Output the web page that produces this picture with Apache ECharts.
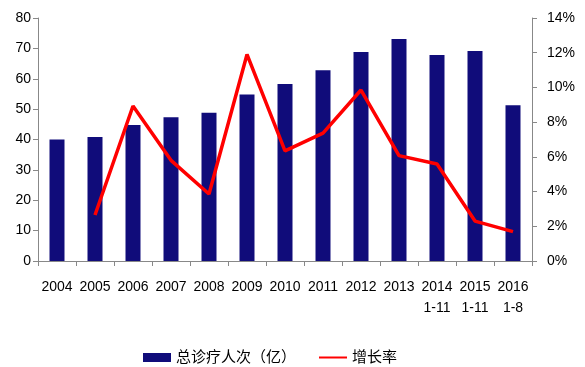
<!DOCTYPE html>
<html><head><meta charset="utf-8">
<script src="https://cdn.jsdelivr.net/npm/echarts@6/dist/echarts.min.js"></script>
<style>html,body{margin:0;padding:0;background:#fff}#c{width:585px;height:367px}</style>
</head><body><div id="c"></div>
<script>
const categories = ['2004','2005','2006','2007','2008','2009','2010','2011','2012','2013','2014\n1-11','2015\n1-11','2016\n1-8'];
const visits = [40.0, 40.8, 44.8, 47.3, 48.8, 54.8, 58.3, 62.8, 68.8, 73.1, 67.8, 69.1, 51.3];
const growth = [null, 2.65, 8.93, 5.8, 3.86, 11.9, 6.34, 7.37, 9.85, 6.07, 5.59, 2.3, 1.69];
const barName = '总诊疗人次（亿）';
const lineName = '增长率';
const font = '"Liberation Sans", "Noto Sans CJK SC", sans-serif';
const chart = echarts.init(document.getElementById('c'));
chart.setOption({
  animation: false,
  textStyle: {fontFamily: font},
  grid: {left: 38, right: 53, top: 18, bottom: 106},
  legend: {
    top: 345, left: 138, itemGap: 22, itemWidth: 28, itemHeight: 9,
    textStyle: {fontSize: 15, color: '#000', fontFamily: font},
    data: [{name: barName, icon: 'rect'}, {name: lineName, itemStyle: {opacity: 0}}]
  },
  xAxis: {
    type: 'category', data: categories,
    axisLine: {lineStyle: {color: '#888'}},
    axisTick: {show: true, length: 5, lineStyle: {color: '#888'}},
    axisLabel: {color: '#000', fontSize: 14, lineHeight: 21, margin: 16, interval: 0}
  },
  yAxis: [{
    type: 'value', min: 0, max: 80, interval: 10,
    axisLine: {show: true, lineStyle: {color: '#888'}},
    axisTick: {show: true, length: 5, lineStyle: {color: '#888'}},
    splitLine: {show: false},
    axisLabel: {color: '#000', fontSize: 14, margin: 7}
  }, {
    type: 'value', min: 0, max: 14, interval: 2,
    axisLine: {show: true, lineStyle: {color: '#888'}},
    axisTick: {show: true, length: 5, lineStyle: {color: '#888'}},
    splitLine: {show: false},
    axisLabel: {color: '#000', fontSize: 14, margin: 15, formatter: '{value}%'}
  }],
  series: [{
    name: barName, type: 'bar', data: visits, barWidth: 15,
    itemStyle: {color: '#100C7A'}
  }, {
    name: lineName, type: 'line', yAxisIndex: 1, data: growth,
    showSymbol: false, symbol: 'none',
    lineStyle: {color: '#FF0000', width: 3.5}, itemStyle: {color: '#FF0000'}
  }]
});
</script></body></html>
